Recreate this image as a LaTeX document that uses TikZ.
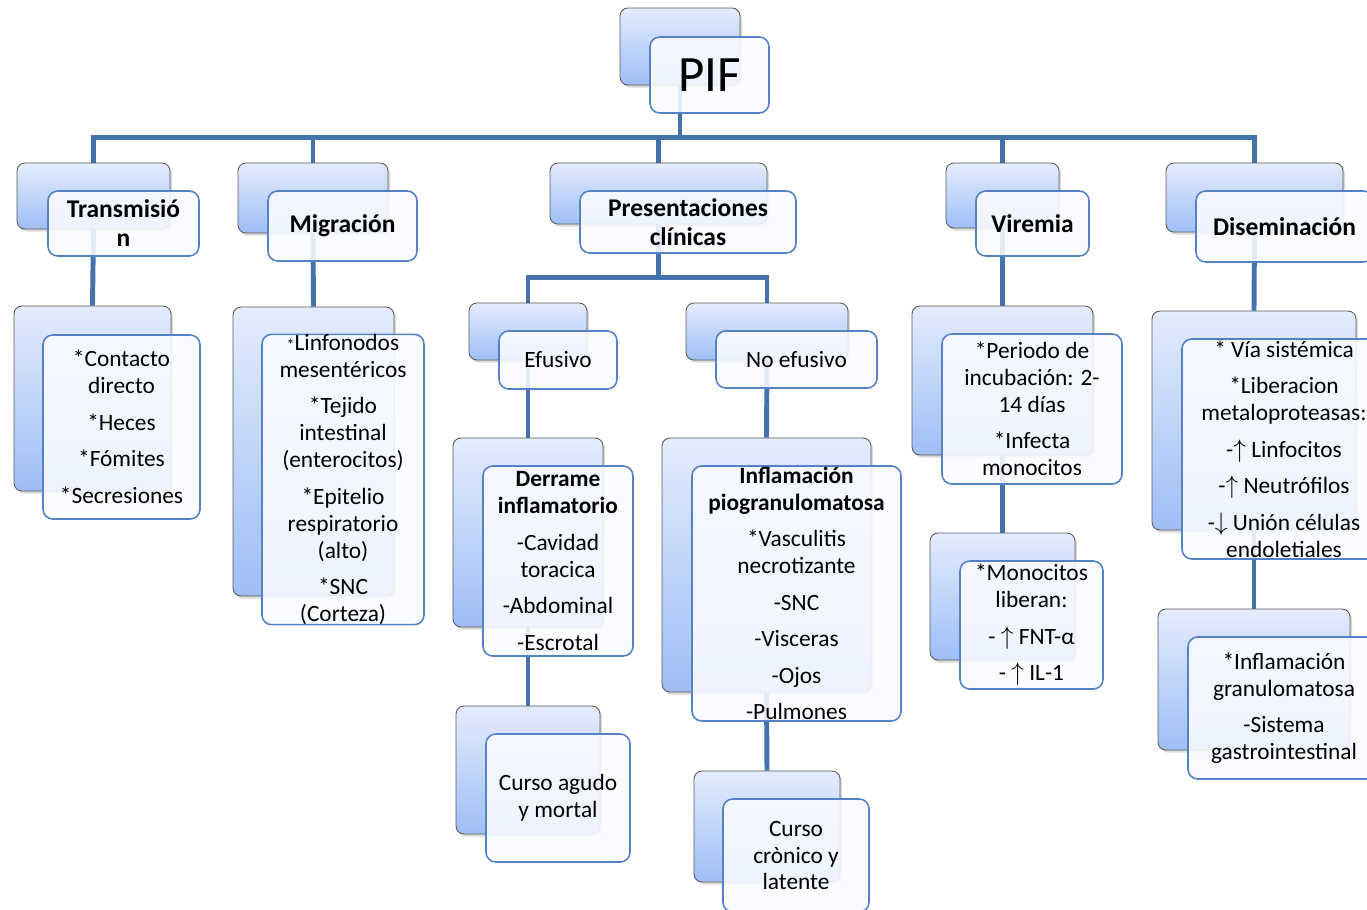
\documentclass[tikz,border=0pt]{standalone}
\usepackage{fontspec}
\setmainfont{Carlito}
\usetikzlibrary{shadows,backgrounds}
\definecolor{linkblue}{RGB}{68,114,170}
\definecolor{edgeblue}{RGB}{84,130,196}
\definecolor{backtop}{RGB}{228,236,253}
\definecolor{backbot}{RGB}{158,190,246}
\definecolor{frontfill}{RGB}{249,251,255}
\newcommand{\gap}{\\[5.5pt]}
\begin{document}
\begin{tikzpicture}[x=0.02cm,y={(0,-0.02cm)},
  back/.style={draw=gray!70!black,line width=0.5pt,rounded corners=4.5pt,top color=backtop,bottom color=backbot,inner sep=0pt,drop shadow={opacity=0.3,shadow xshift=1.2pt,shadow yshift=-1.5pt}},
  front/.style={draw=edgeblue,line width=0.9pt,rounded corners=5.5pt,fill=frontfill,fill opacity=0.88,text opacity=1,inner sep=0pt,align=center,font=\fontsize{13.3}{15.3}\selectfont},
  head/.style={front,font=\fontsize{14.5}{16.5}\selectfont\bfseries},
  link/.style={draw=linkblue,line width=2.8pt}]
\useasboundingbox (0,0) rectangle (1367,910);
\clip (0,0) rectangle (1367,910);
\node[back,minimum width=2.4cm,minimum height=1.54cm] (pifb) at (680,46.5) {};
\node[front,minimum width=2.38cm,minimum height=1.52cm,font=\fontsize{29}{34}\selectfont] (pif) at (709.5,75) {PIF};
\node[back,minimum width=3.06cm,minimum height=1.32cm] (transb) at (93.5,196) {};
\node[head,minimum width=3.02cm,minimum height=1.3cm] (trans) at (123.5,223.5) {Transmisió\\n};
\node[back,minimum width=3cm,minimum height=1.4cm] (migb) at (313,198) {};
\node[head,minimum width=2.98cm,minimum height=1.4cm] (mig) at (342.5,226) {Migración};
\node[back,minimum width=4.34cm,minimum height=1.22cm] (presb) at (658.5,193.5) {};
\node[head,minimum width=4.32cm,minimum height=1.24cm] (pres) at (688,222) {Presentaciones\\clínicas};
\node[back,minimum width=2.26cm,minimum height=1.3cm] (virb) at (1002.5,195.5) {};
\node[head,minimum width=2.26cm,minimum height=1.3cm] (vir) at (1032.5,223.5) {Viremia};
\node[back,minimum width=3.54cm,minimum height=1.38cm] (disb) at (1254.5,197.5) {};
\node[head,minimum width=3.54cm,minimum height=1.42cm] (dis) at (1284.5,226.5) {Diseminación};
\node[back,minimum width=3.14cm,minimum height=3.7cm] (transcb) at (92.5,398.5) {};
\node[front,minimum width=3.14cm,minimum height=3.68cm] (transc) at (121.5,427) {*Contacto\\directo\gap *Heces\gap *Fómites\gap *Secresiones};
\node[back,minimum width=3.22cm,minimum height=5.78cm] (migcb) at (313.5,451.5) {};
\node[front,minimum width=3.24cm,minimum height=5.78cm] (migc) at (343,479.5) {{\small *}Linfonodos\\mesentéricos\gap *Tejido\\intestinal\\(enterocitos)\gap *Epitelio\\respiratorio\\(alto)\gap *SNC\\(Corteza)};
\node[back,minimum width=2.36cm,minimum height=1.14cm] (efub) at (528,331.5) {};
\node[front,minimum width=2.36cm,minimum height=1.16cm] (efu) at (558,360) {Efusivo};
\node[back,minimum width=3.24cm,minimum height=1.14cm] (noefub) at (767,331.5) {};
\node[front,minimum width=3.22cm,minimum height=1.14cm] (noefu) at (796.5,359.5) {No efusivo};
\node[back,minimum width=3cm,minimum height=3.78cm] (derrb) at (528,532.5) {};
\node[front,minimum width=3cm,minimum height=3.8cm] (derr) at (558,561) {\textbf{Derrame}\\\textbf{inflamatorio}\gap -Cavidad\\toracica\gap -Abdominal\gap -Escrotal};
\node[back,minimum width=2.88cm,minimum height=2.56cm] (agudob) at (528,770) {};
\node[front,minimum width=2.88cm,minimum height=2.56cm] (agudo) at (558,798) {Curso agudo\\y mortal};
\node[back,minimum width=4.18cm,minimum height=5.08cm] (inflb) at (766.5,565) {};
\node[front,minimum width=4.18cm,minimum height=5.1cm] (infl) at (796.5,593.5) {\textbf{Inflamación}\\\textbf{piogranulomatosa}\gap *Vasculitis\\necrotizante\gap -SNC\gap -Visceras\gap -Ojos\gap -Pulmones};
\node[back,minimum width=2.92cm,minimum height=2.22cm] (cronb) at (767,826.5) {};
\node[front,minimum width=2.92cm,minimum height=2.26cm] (cron) at (796,855.5) {Curso\\crònico y\\latente};
\node[back,minimum width=3.62cm,minimum height=2.98cm] (vircb) at (1002.5,380.5) {};
\node[front,minimum width=3.6cm,minimum height=3cm] (virc) at (1032,409) {*Periodo de\\incubación: 2-\\14 días\gap *Infecta\\monocitos};
\node[back,minimum width=2.9cm,minimum height=2.54cm] (monob) at (1002.5,596.5) {};
\node[front,minimum width=2.86cm,minimum height=2.56cm] (mono) at (1031.5,625) {*Monocitos\\liberan:\gap - $\uparrow$ FNT-α\gap - $\uparrow$ IL-1};
\node[back,minimum width=4.08cm,minimum height=4.38cm] (discb) at (1254,420.5) {};
\node[front,minimum width=4.08cm,minimum height=4.4cm] (disc) at (1284,449) {* Vía sistémica\gap *Liberacion\\metaloproteasas:\gap -$\uparrow$ Linfocitos\gap -$\uparrow$ Neutrófilos\gap -$\downarrow$ Unión células\\endoletiales};
\node[back,minimum width=3.84cm,minimum height=2.82cm] (granb) at (1254,679.5) {};
\node[front,minimum width=3.84cm,minimum height=2.84cm] (gran) at (1284,708) {*Inflamación\\granulomatosa\gap -Sistema\\gastrointestinal};
\begin{scope}[on background layer]
\draw[link] (pifb.south) -- ++(0,52) -| (transb.north);
\draw[link] (pifb.south) -- ++(0,52) -| (migb.north);
\draw[link] (pifb.south) -- ++(0,52) -| (presb.north);
\draw[link] (pifb.south) -- ++(0,52) -| (virb.north);
\draw[link] (pifb.south) -- ++(0,52) -| (disb.north);
\draw[link] (transb.south) -- (transcb.north);
\draw[link] (migb.south) -- (migcb.north);
\draw[link] (presb.south) -- ++(0,53) -| (efub.north);
\draw[link] (presb.south) -- ++(0,53) -| (noefub.north);
\draw[link] (efub.south) -- (derrb.north);
\draw[link] (derrb.south) -- (agudob.north);
\draw[link] (noefub.south) -- (inflb.north);
\draw[link] (inflb.south) -- (cronb.north);
\draw[link] (virb.south) -- (vircb.north);
\draw[link] (vircb.south) -- (monob.north);
\draw[link] (disb.south) -- (discb.north);
\draw[link] (discb.south) -- (granb.north);
\end{scope}
\end{tikzpicture}
\end{document}
